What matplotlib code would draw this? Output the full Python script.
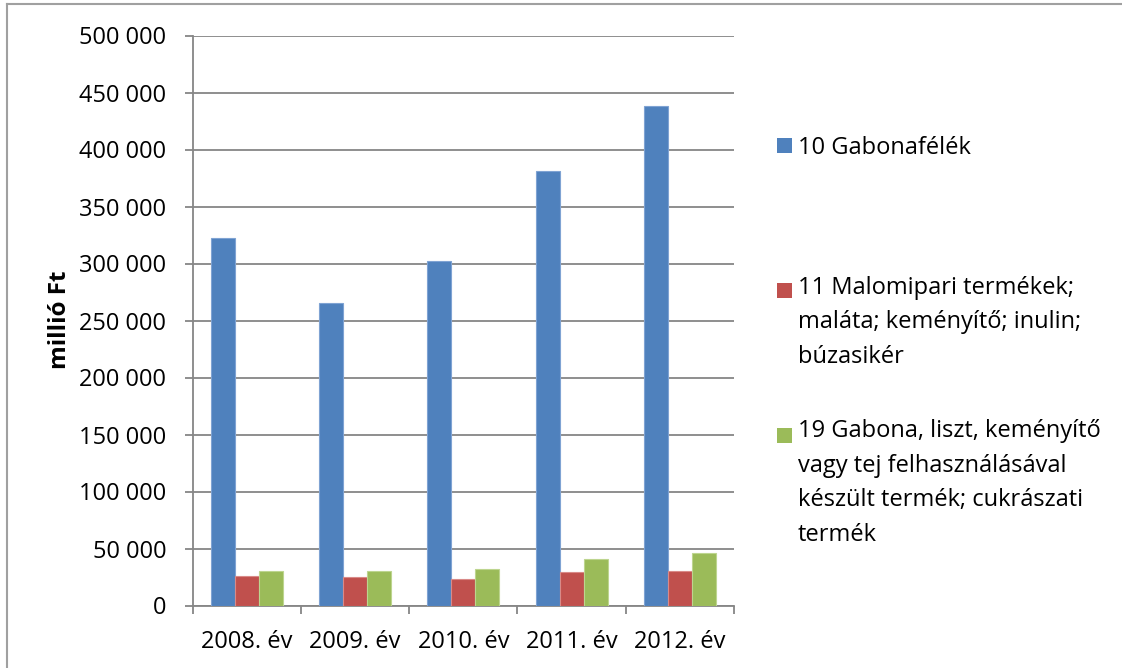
import matplotlib
matplotlib.use("Agg")
import matplotlib.pyplot as plt
from matplotlib.patches import Rectangle
from matplotlib.lines import Line2D
from matplotlib.ticker import FuncFormatter, MultipleLocator, FixedLocator
import numpy as np

plt.rcParams['font.family'] = ['Open Sans', 'DejaVu Sans']

categories = ["2008. év", "2009. év", "2010. év", "2011. év", "2012. év"]
series_names = [
    "10 Gabonafélék",
    "11 Malomipari termékek;\nmaláta; keményítő; inulin;\nbúzasikér",
    "19 Gabona, liszt, keményítő\nvagy tej felhasználásával\nkészült termék; cukrászati\ntermék",
]
gabona = [322000, 265500, 302000, 381500, 438000]
malomipari = [25700, 25200, 23000, 29400, 30000]
cukraszati = [30600, 30100, 31800, 40800, 45800]
colors = ["#4F81BD", "#C0504D", "#9BBB59"]
edge_colors = ["#7FA3D3", "#D98A88", "#BDD58F"]

W, H = 1122, 668
fig = plt.figure(figsize=(W / 100, H / 100), dpi=100)

def fx(x):
    return x / W

def fy(y):
    return 1 - y / H

left, right, top, bottom = 192.7, 734.0, 35.5, 605.5
ax = fig.add_axes([fx(left), fy(bottom), fx(right - left), (bottom - top) / H])

FS = 17
grid_c = "#868686"
x = np.arange(len(categories))
bw = 0.222
for i, vals in enumerate([gabona, malomipari, cukraszati]):
    ax.bar(x + (i - 1) * bw, vals, width=bw, color=colors[i],
           edgecolor=edge_colors[i], linewidth=0.8, zorder=3)

ax.set_xlim(-0.5, len(categories) - 0.5)
ax.set_ylim(0, 500000)
ax.yaxis.set_major_locator(MultipleLocator(50000))
ax.yaxis.set_major_formatter(FuncFormatter(lambda v, p: f"{int(v):,}".replace(",", " ")))
ax.grid(axis='y', color=grid_c, linewidth=1.3, zorder=0)

ax.set_xticks(x)
ax.set_xticklabels(categories, fontsize=FS)
ax.xaxis.set_minor_locator(FixedLocator(np.arange(-0.5, len(categories), 1.0)))
ax.tick_params(axis='x', which='major', length=0, pad=18)
ax.tick_params(axis='x', which='minor', length=6, width=1.3, color=grid_c, direction='out')
ax.tick_params(axis='y', which='major', length=6, width=1.3, color=grid_c,
               direction='out', pad=13, labelsize=FS)

for s in ['top', 'right']:
    ax.spines[s].set_visible(False)
for s in ['left', 'bottom']:
    ax.spines[s].set_color(grid_c)
    ax.spines[s].set_linewidth(1.3)

fig.text(fx(60), fy(320), "millió Ft", rotation=90, ha='center', va='center',
         fontsize=FS + 0.5, fontweight='bold')

# legend (manual)
marker_cy = [145.5, 290.0, 435.5]
line_step = 32.5
for i, name in enumerate(series_names):
    cy = marker_cy[i]
    n_lines = name.count("\n") + 1
    fig.patches.append(Rectangle((fx(777), fy(cy + 7.5)), fx(15), 15 / H,
                                 transform=fig.transFigure, facecolor=colors[i],
                                 edgecolor='none'))
    fig.text(fx(798), fy(cy + 8 + (n_lines - 1) * line_step), name, ha='left',
             va='baseline', fontsize=FS, linespacing=1.59)

# outer border (top and left)
fig.add_artist(Line2D([fx(6.5), 1], [fy(4), fy(4)], color="#A0A0A0", linewidth=1.5,
                      transform=fig.transFigure))
fig.add_artist(Line2D([fx(6.5), fx(6.5)], [fy(4), 0], color="#A0A0A0", linewidth=1.5,
                      transform=fig.transFigure))

fig.savefig("out.png", dpi=100)
